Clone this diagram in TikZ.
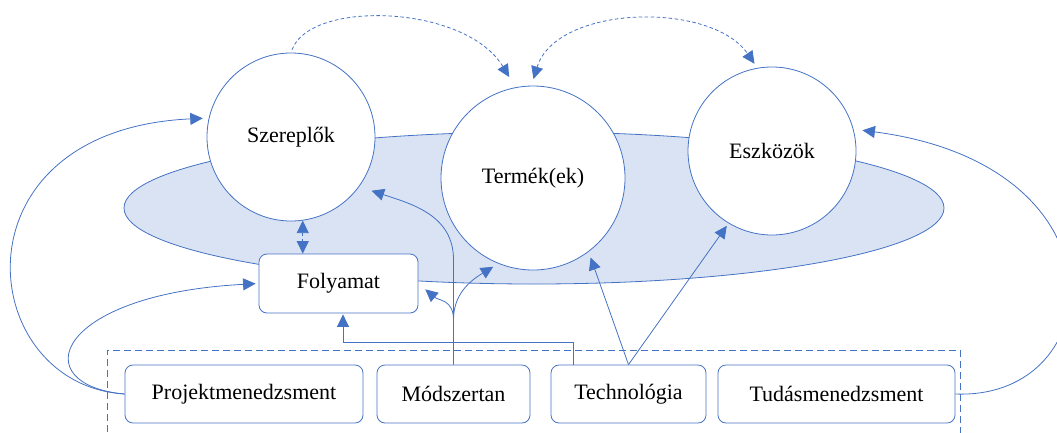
\documentclass[tikz,border=0pt]{standalone}
\usepackage{fontspec}
\setmainfont{Liberation Serif}
\usetikzlibrary{arrows.meta,shapes.geometric,calc}
\definecolor{edge}{HTML}{4472C4}
\definecolor{halo}{HTML}{DAE3F3}
\begin{document}
\begin{tikzpicture}[x=1pt,y=-1pt,
  every node/.style={font=\fontsize{22}{26}\selectfont, inner sep=0pt},
  ring/.style={circle, draw=edge, line width=0.8pt, fill=white},
  card/.style={rectangle, rounded corners=8pt, draw=edge, line width=0.8pt,
    fill=white, minimum height=58pt},
  frame/.style={rectangle, draw=edge, line width=0.8pt, dash pattern=on 7pt off 4pt},
  link/.style={edge, line width=0.8pt, -{Triangle[length=12.5pt,width=12pt]}},
  dlink/.style={link, dash pattern=on 3.5pt off 2.5pt},
  ddlink/.style={dlink, {Triangle[length=12.5pt,width=12pt]}-{Triangle[length=12.5pt,width=12pt]}}
]
\useasboundingbox (0,0) rectangle (1057,432);

% shaded ellipse behind the three circles
\node[ellipse, draw=edge, fill=halo, line width=0.8pt,
      minimum width=820pt, minimum height=152pt] (ell) at (534,208) {};

% circles
\node[ring, minimum size=168pt] (sz) at (291,137) {Szereplők};
\node[ring, minimum size=184pt] (tm) at (533,178) {Termék(ek)};
\node[ring, minimum size=168pt] (es) at (772,151) {Eszközök};

% process box
\node[card, minimum width=159pt, minimum height=59pt] (fo) at (338.5,283.5) {Folyamat};

% group of supporting areas
\node[frame, anchor=north west, minimum width=853pt, minimum height=100pt] (grp) at (107,350) {};
\node[card, minimum width=238pt] (pm) at (244,394) {Projektmenedzsment};
\node[card, minimum width=153pt] (md) at (453.5,394) {Módszertan};
\node[card, minimum width=155pt] (te) at (628.5,394) {Technológia};
\node[card, minimum width=237pt] (tu) at (836.5,394) {Tudásmenedzsment};

% dashed links along the top
\draw[dlink, shorten <=3pt, shorten >=12pt]
  (sz.north) .. controls +(19,-53) and +(-50,-83) .. (tm.101);
\draw[ddlink, shorten <=7pt, shorten >=5pt]
  (tm.91) .. controls +(25,-81) and +(-46,-67) .. (es.100);
\draw[ddlink] (sz.-82.5) -- (sz.-82.5 |- fo.north);

% Projektmenedzsment
\draw[link, shorten >=6pt]
  (pm.west) .. controls +(-150,-9) and +(-260,12) .. (sz.167);
\draw[link, shorten >=3pt]
  (pm.west) .. controls +(-100,-9) and +(-205,11) .. (fo.west);

% Tudásmenedzsment
\draw[link, shorten >=9pt]
  (tu.east) .. controls +(155,6) and +(277,36) .. (es.15);

% Módszertan
\coordinate (mdb) at ($(md.north)+(0,-45)$);
\draw[link, shorten >=13pt]
  (md.north) -- ++(0,-105) .. controls +(0,-45) and +(51,17) .. (sz.-36);
\draw[link, shorten >=9pt]
  (mdb) .. controls +(0,-20) and +(20,17) .. (fo.east);
\draw[link, shorten >=6pt]
  (mdb) .. controls +(0,-25) and +(-29,17.5) .. (tm.-112);

% Technológia
\draw[link, shorten >=1pt]
  ([xshift=23pt]te.north west) -- ++(0,-22) -| ([xshift=4.5pt]fo.south);
\draw[link, shorten >=6pt] (te.north) -- (tm.-53);
\draw[link, shorten >=3pt] (te.north) -- (es.-121);
\end{tikzpicture}
\end{document}
